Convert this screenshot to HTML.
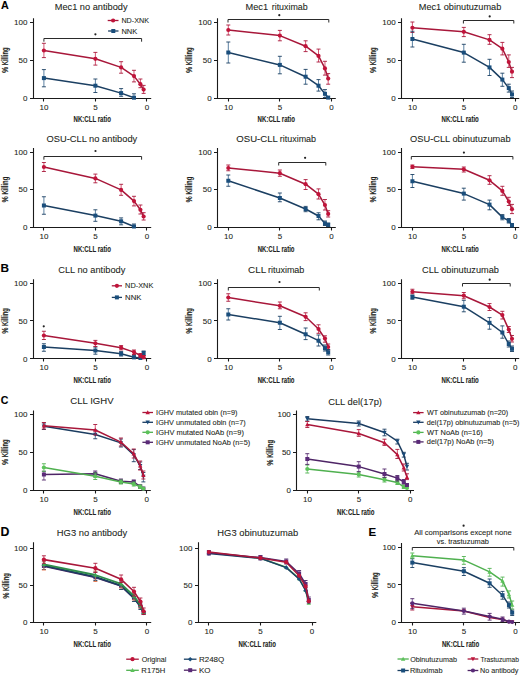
<!DOCTYPE html>
<html><head><meta charset="utf-8"><style>
html,body{margin:0;padding:0;background:#fff;}
body{width:520px;height:675px;overflow:hidden;}
svg{display:block;font-family:"Liberation Sans",sans-serif;}
text{stroke:#231f20;stroke-width:0.08px;paint-order:stroke;}
text[font-weight=bold]{stroke-width:0.12px;}
</style></head><body>
<svg width="520" height="675" viewBox="0 0 520 675">
<rect width="520" height="675" fill="#fff"/>
<path d="M33.50,18.30V98.50M30.00,98.50H151.20" stroke="#1a1a1a" stroke-width="1.1" fill="none"/>
<path d="M30.00,22.50H33.50M30.00,60.50H33.50M43.50,98.50v3M95.50,98.50v3M146.50,98.50v3" stroke="#1a1a1a" stroke-width="1.1" fill="none"/>
<text x="14.06" y="25.05" font-size="8.0" font-weight="normal" fill="#231f20">100</text>
<text x="18.50" y="63.07" font-size="8.0" font-weight="normal" fill="#231f20">50</text>
<text x="23.04" y="101.10" font-size="8.0" font-weight="normal" fill="#231f20">0</text>
<text x="39.60" y="110.00" font-size="8.0" font-weight="normal" fill="#231f20">10</text>
<text x="93.25" y="110.00" font-size="8.0" font-weight="normal" fill="#231f20">5</text>
<text x="144.71" y="110.00" font-size="8.0" font-weight="normal" fill="#231f20">0</text>
<text x="73.51" y="122.30" font-size="9.6" font-weight="bold" fill="#231f20" textLength="37.36" lengthAdjust="spacingAndGlyphs">NK:CLL ratio</text>
<g transform="translate(8.10,60.27) rotate(-90)">
<text x="-12.78" y="0.00" font-size="9.3" font-weight="bold" fill="#231f20" textLength="6.25" lengthAdjust="spacingAndGlyphs">%</text>
<text x="-4.98" y="0.00" font-size="9.3" font-weight="bold" fill="#231f20" textLength="17.86" lengthAdjust="spacingAndGlyphs">Killing</text>
</g>
<text x="54.76" y="10.20" font-size="9.4" font-weight="normal" fill="#231f20" textLength="72.83" lengthAdjust="spacingAndGlyphs">Mec1 no antibody</text>
<path d="M43.90,41.70V38.50H141.60V41.70" stroke="#2a2a2a" stroke-width="1" fill="none"/>
<circle cx="95.40" cy="34.30" r="1.1" fill="#222"/>
<path d="M43.90,43.30V57.60M95.38,52.40V65.10M121.11,61.70V73.20M133.98,70.30V81.90M140.42,79.00V87.70M143.63,85.40V93.40" stroke="#c0143a" stroke-width="0.9" fill="none" opacity="0.8"/>
<path d="M41.90,43.30h4M41.90,57.60h4M93.38,52.40h4M93.38,65.10h4M119.11,61.70h4M119.11,73.20h4M131.98,70.30h4M131.98,81.90h4M138.42,79.00h4M138.42,87.70h4M141.63,85.40h4M141.63,93.40h4" stroke="#a8173a" stroke-width="0.9" fill="none"/>
<polyline points="43.90,50.50 95.38,58.80 121.11,67.40 133.98,76.10 140.42,84.20 143.63,89.60" stroke="#a8173a" stroke-width="1.5" fill="none" stroke-linejoin="round"/>
<circle cx="43.90" cy="50.50" r="2.10" fill="#c0143a"/>
<circle cx="95.38" cy="58.80" r="2.10" fill="#c0143a"/>
<circle cx="121.11" cy="67.40" r="2.10" fill="#c0143a"/>
<circle cx="133.98" cy="76.10" r="2.10" fill="#c0143a"/>
<circle cx="140.42" cy="84.20" r="2.10" fill="#c0143a"/>
<circle cx="143.63" cy="89.60" r="2.10" fill="#c0143a"/>
<path d="M43.90,69.60V86.80M95.38,79.00V92.50M121.11,88.60V96.30M133.98,93.80V98.00" stroke="#1a4e7c" stroke-width="0.9" fill="none" opacity="0.8"/>
<path d="M41.90,69.60h4M41.90,86.80h4M93.38,79.00h4M93.38,92.50h4M119.11,88.60h4M119.11,96.30h4M131.98,93.80h4M131.98,98.00h4" stroke="#1b3f62" stroke-width="0.9" fill="none"/>
<polyline points="43.90,78.10 95.38,85.70 121.11,93.10 133.98,97.70" stroke="#1b3f62" stroke-width="1.5" fill="none" stroke-linejoin="round"/>
<rect x="41.90" y="76.10" width="4.00" height="4.00" fill="#1a4e7c"/>
<rect x="93.38" y="83.70" width="4.00" height="4.00" fill="#1a4e7c"/>
<rect x="119.11" y="91.10" width="4.00" height="4.00" fill="#1a4e7c"/>
<rect x="131.98" y="95.70" width="4.00" height="4.00" fill="#1a4e7c"/>
<path d="M107.70,20.50H118.50" stroke="#a8173a" stroke-width="1.3"/>
<circle cx="113.10" cy="20.50" r="2.10" fill="#c0143a"/>
<text x="121.43" y="23.00" font-size="7.2" font-weight="normal" fill="#231f20">ND-XNK</text>
<path d="M108.10,31.00H118.50" stroke="#1b3f62" stroke-width="1.3"/>
<rect x="111.30" y="29.00" width="4.00" height="4.00" fill="#1a4e7c"/>
<text x="121.40" y="33.50" font-size="7.2" font-weight="normal" fill="#231f20" textLength="15.89" lengthAdjust="spacingAndGlyphs">NNK</text>
<path d="M217.50,18.30V98.50M214.00,98.50H335.80" stroke="#1a1a1a" stroke-width="1.1" fill="none"/>
<path d="M214.00,22.50H217.50M214.00,60.50H217.50M228.50,98.50v3M279.50,98.50v3M331.50,98.50v3" stroke="#1a1a1a" stroke-width="1.1" fill="none"/>
<text x="198.36" y="25.05" font-size="8.0" font-weight="normal" fill="#231f20">100</text>
<text x="202.80" y="63.07" font-size="8.0" font-weight="normal" fill="#231f20">50</text>
<text x="207.34" y="101.10" font-size="8.0" font-weight="normal" fill="#231f20">0</text>
<text x="224.00" y="110.00" font-size="8.0" font-weight="normal" fill="#231f20">10</text>
<text x="277.73" y="110.00" font-size="8.0" font-weight="normal" fill="#231f20">5</text>
<text x="329.26" y="110.00" font-size="8.0" font-weight="normal" fill="#231f20">0</text>
<text x="257.61" y="122.30" font-size="9.6" font-weight="bold" fill="#231f20" textLength="37.36" lengthAdjust="spacingAndGlyphs">NK:CLL ratio</text>
<g transform="translate(192.40,60.27) rotate(-90)">
<text x="-12.78" y="0.00" font-size="9.3" font-weight="bold" fill="#231f20" textLength="6.25" lengthAdjust="spacingAndGlyphs">%</text>
<text x="-4.98" y="0.00" font-size="9.3" font-weight="bold" fill="#231f20" textLength="17.86" lengthAdjust="spacingAndGlyphs">Killing</text>
</g>
<text x="245.46" y="10.40" font-size="9.4" font-weight="normal" fill="#231f20" textLength="22.66" lengthAdjust="spacingAndGlyphs">Mec1</text>
<text x="271.72" y="10.40" font-size="9.4" font-weight="normal" fill="#231f20" textLength="35.95" lengthAdjust="spacingAndGlyphs">rituximab</text>
<path d="M228.00,22.50V19.50H328.80V22.50" stroke="#2a2a2a" stroke-width="1" fill="none"/>
<circle cx="279.30" cy="15.20" r="1.1" fill="#222"/>
<path d="M228.30,25.00V35.00M279.85,30.40V40.80M305.62,40.80V51.60M318.51,49.10V62.00M324.96,61.30V75.10M328.18,73.60V84.20" stroke="#c0143a" stroke-width="0.9" fill="none" opacity="0.8"/>
<path d="M226.30,25.00h4M226.30,35.00h4M277.85,30.40h4M277.85,40.80h4M303.62,40.80h4M303.62,51.60h4M316.51,49.10h4M316.51,62.00h4M322.96,61.30h4M322.96,75.10h4M326.18,73.60h4M326.18,84.20h4" stroke="#a8173a" stroke-width="0.9" fill="none"/>
<polyline points="228.30,30.00 279.85,35.60 305.62,46.20 318.51,55.90 324.96,68.40 328.18,78.60" stroke="#a8173a" stroke-width="1.5" fill="none" stroke-linejoin="round"/>
<circle cx="228.30" cy="30.00" r="2.10" fill="#c0143a"/>
<circle cx="279.85" cy="35.60" r="2.10" fill="#c0143a"/>
<circle cx="305.62" cy="46.20" r="2.10" fill="#c0143a"/>
<circle cx="318.51" cy="55.90" r="2.10" fill="#c0143a"/>
<circle cx="324.96" cy="68.40" r="2.10" fill="#c0143a"/>
<circle cx="328.18" cy="78.60" r="2.10" fill="#c0143a"/>
<path d="M228.30,42.00V63.00M279.85,56.30V73.80M305.62,69.40V84.20M318.51,79.60V91.10M324.96,89.60V97.50" stroke="#1a4e7c" stroke-width="0.9" fill="none" opacity="0.8"/>
<path d="M226.30,42.00h4M226.30,63.00h4M277.85,56.30h4M277.85,73.80h4M303.62,69.40h4M303.62,84.20h4M316.51,79.60h4M316.51,91.10h4M322.96,89.60h4M322.96,97.50h4" stroke="#1b3f62" stroke-width="0.9" fill="none"/>
<polyline points="228.30,52.50 279.85,64.90 305.62,76.70 318.51,85.70 324.96,93.80 328.18,97.60" stroke="#1b3f62" stroke-width="1.5" fill="none" stroke-linejoin="round"/>
<rect x="226.30" y="50.50" width="4.00" height="4.00" fill="#1a4e7c"/>
<rect x="277.85" y="62.90" width="4.00" height="4.00" fill="#1a4e7c"/>
<rect x="303.62" y="74.70" width="4.00" height="4.00" fill="#1a4e7c"/>
<rect x="316.51" y="83.70" width="4.00" height="4.00" fill="#1a4e7c"/>
<rect x="322.96" y="91.80" width="4.00" height="4.00" fill="#1a4e7c"/>
<rect x="326.18" y="95.60" width="4.00" height="4.00" fill="#1a4e7c"/>
<path d="M401.50,18.30V98.50M398.00,98.50H519.20" stroke="#1a1a1a" stroke-width="1.1" fill="none"/>
<path d="M398.00,22.50H401.50M398.00,60.50H401.50M412.50,98.50v3M463.50,98.50v3M515.50,98.50v3" stroke="#1a1a1a" stroke-width="1.1" fill="none"/>
<text x="382.36" y="25.05" font-size="8.0" font-weight="normal" fill="#231f20">100</text>
<text x="386.80" y="63.07" font-size="8.0" font-weight="normal" fill="#231f20">50</text>
<text x="391.34" y="101.10" font-size="8.0" font-weight="normal" fill="#231f20">0</text>
<text x="408.10" y="110.00" font-size="8.0" font-weight="normal" fill="#231f20">10</text>
<text x="461.68" y="110.00" font-size="8.0" font-weight="normal" fill="#231f20">5</text>
<text x="513.06" y="110.00" font-size="8.0" font-weight="normal" fill="#231f20">0</text>
<text x="441.61" y="122.30" font-size="9.6" font-weight="bold" fill="#231f20" textLength="37.15" lengthAdjust="spacingAndGlyphs">NK:CLL ratio</text>
<g transform="translate(376.40,60.27) rotate(-90)">
<text x="-12.78" y="0.00" font-size="9.3" font-weight="bold" fill="#231f20" textLength="6.25" lengthAdjust="spacingAndGlyphs">%</text>
<text x="-4.98" y="0.00" font-size="9.3" font-weight="bold" fill="#231f20" textLength="17.86" lengthAdjust="spacingAndGlyphs">Killing</text>
</g>
<text x="418.77" y="10.40" font-size="9.4" font-weight="normal" fill="#231f20" textLength="82.51" lengthAdjust="spacingAndGlyphs">Mec1 obinutuzumab</text>
<path d="M463.40,23.50V20.50H513.80V23.50" stroke="#2a2a2a" stroke-width="1" fill="none"/>
<circle cx="489.70" cy="16.40" r="1.1" fill="#222"/>
<path d="M412.40,22.00V32.50M463.80,27.40V36.60M489.50,34.70V44.30M502.35,42.40V54.90M508.78,54.90V67.40M511.99,67.40V77.60" stroke="#c0143a" stroke-width="0.9" fill="none" opacity="0.8"/>
<path d="M410.40,22.00h4M410.40,32.50h4M461.80,27.40h4M461.80,36.60h4M487.50,34.70h4M487.50,44.30h4M500.35,42.40h4M500.35,54.90h4M506.78,54.90h4M506.78,67.40h4M509.99,67.40h4M509.99,77.60h4" stroke="#a8173a" stroke-width="0.9" fill="none"/>
<polyline points="412.40,27.75 463.80,31.80 489.50,39.90 502.35,48.70 508.78,62.00 511.99,71.70" stroke="#a8173a" stroke-width="1.5" fill="none" stroke-linejoin="round"/>
<circle cx="412.40" cy="27.75" r="2.10" fill="#c0143a"/>
<circle cx="463.80" cy="31.80" r="2.10" fill="#c0143a"/>
<circle cx="489.50" cy="39.90" r="2.10" fill="#c0143a"/>
<circle cx="502.35" cy="48.70" r="2.10" fill="#c0143a"/>
<circle cx="508.78" cy="62.00" r="2.10" fill="#c0143a"/>
<circle cx="511.99" cy="71.70" r="2.10" fill="#c0143a"/>
<path d="M412.40,31.25V47.00M463.80,44.30V62.20M489.50,59.30V75.50M502.35,73.20V86.30M508.78,84.20V92.10M511.99,91.00V97.50" stroke="#1a4e7c" stroke-width="0.9" fill="none" opacity="0.8"/>
<path d="M410.40,31.25h4M410.40,47.00h4M461.80,44.30h4M461.80,62.20h4M487.50,59.30h4M487.50,75.50h4M500.35,73.20h4M500.35,86.30h4M506.78,84.20h4M506.78,92.10h4M509.99,91.00h4M509.99,97.50h4" stroke="#1b3f62" stroke-width="0.9" fill="none"/>
<polyline points="412.40,39.00 463.80,52.60 489.50,67.40 502.35,79.60 508.78,88.10 511.99,94.40" stroke="#1b3f62" stroke-width="1.5" fill="none" stroke-linejoin="round"/>
<rect x="410.40" y="37.00" width="4.00" height="4.00" fill="#1a4e7c"/>
<rect x="461.80" y="50.60" width="4.00" height="4.00" fill="#1a4e7c"/>
<rect x="487.50" y="65.40" width="4.00" height="4.00" fill="#1a4e7c"/>
<rect x="500.35" y="77.60" width="4.00" height="4.00" fill="#1a4e7c"/>
<rect x="506.78" y="86.10" width="4.00" height="4.00" fill="#1a4e7c"/>
<rect x="509.99" y="92.40" width="4.00" height="4.00" fill="#1a4e7c"/>
<path d="M33.50,148.00V227.50M30.00,227.50H151.20" stroke="#1a1a1a" stroke-width="1.1" fill="none"/>
<path d="M30.00,152.50H33.50M30.00,189.50H33.50M43.50,227.50v3M95.50,227.50v3M146.50,227.50v3" stroke="#1a1a1a" stroke-width="1.1" fill="none"/>
<text x="14.06" y="154.90" font-size="8.0" font-weight="normal" fill="#231f20">100</text>
<text x="18.50" y="192.45" font-size="8.0" font-weight="normal" fill="#231f20">50</text>
<text x="23.04" y="230.00" font-size="8.0" font-weight="normal" fill="#231f20">0</text>
<text x="39.60" y="238.90" font-size="8.0" font-weight="normal" fill="#231f20">10</text>
<text x="93.25" y="238.90" font-size="8.0" font-weight="normal" fill="#231f20">5</text>
<text x="144.71" y="238.90" font-size="8.0" font-weight="normal" fill="#231f20">0</text>
<text x="73.51" y="252.00" font-size="9.6" font-weight="bold" fill="#231f20" textLength="37.36" lengthAdjust="spacingAndGlyphs">NK:CLL ratio</text>
<g transform="translate(8.10,189.65) rotate(-90)">
<text x="-12.78" y="0.00" font-size="9.3" font-weight="bold" fill="#231f20" textLength="6.25" lengthAdjust="spacingAndGlyphs">%</text>
<text x="-4.98" y="0.00" font-size="9.3" font-weight="bold" fill="#231f20" textLength="17.86" lengthAdjust="spacingAndGlyphs">Killing</text>
</g>
<text x="46.58" y="141.50" font-size="9.4" font-weight="normal" fill="#231f20" textLength="90.63" lengthAdjust="spacingAndGlyphs">OSU-CLL no antibody</text>
<path d="M43.90,159.70V156.50H141.60V159.70" stroke="#2a2a2a" stroke-width="1" fill="none"/>
<circle cx="95.50" cy="151.00" r="1.1" fill="#222"/>
<path d="M43.90,162.50V171.50M95.38,174.10V182.80M121.11,184.30V195.30M133.98,196.30V205.90M140.42,205.00V214.00M143.63,212.70V220.00" stroke="#c0143a" stroke-width="0.9" fill="none" opacity="0.8"/>
<path d="M41.90,162.50h4M41.90,171.50h4M93.38,174.10h4M93.38,182.80h4M119.11,184.30h4M119.11,195.30h4M131.98,196.30h4M131.98,205.90h4M138.42,205.00h4M138.42,214.00h4M141.63,212.70h4M141.63,220.00h4" stroke="#a8173a" stroke-width="0.9" fill="none"/>
<polyline points="43.90,167.00 95.38,178.40 121.11,189.90 133.98,201.10 140.42,209.80 143.63,216.50" stroke="#a8173a" stroke-width="1.5" fill="none" stroke-linejoin="round"/>
<circle cx="43.90" cy="167.00" r="2.10" fill="#c0143a"/>
<circle cx="95.38" cy="178.40" r="2.10" fill="#c0143a"/>
<circle cx="121.11" cy="189.90" r="2.10" fill="#c0143a"/>
<circle cx="133.98" cy="201.10" r="2.10" fill="#c0143a"/>
<circle cx="140.42" cy="209.80" r="2.10" fill="#c0143a"/>
<circle cx="143.63" cy="216.50" r="2.10" fill="#c0143a"/>
<path d="M43.90,196.75V214.25M95.38,209.80V221.30M121.11,217.90V224.80M133.98,224.00V227.50" stroke="#1a4e7c" stroke-width="0.9" fill="none" opacity="0.8"/>
<path d="M41.90,196.75h4M41.90,214.25h4M93.38,209.80h4M93.38,221.30h4M119.11,217.90h4M119.11,224.80h4M131.98,224.00h4M131.98,227.50h4" stroke="#1b3f62" stroke-width="0.9" fill="none"/>
<polyline points="43.90,205.50 95.38,215.60 121.11,221.30 133.98,226.50" stroke="#1b3f62" stroke-width="1.5" fill="none" stroke-linejoin="round"/>
<rect x="41.90" y="203.50" width="4.00" height="4.00" fill="#1a4e7c"/>
<rect x="93.38" y="213.60" width="4.00" height="4.00" fill="#1a4e7c"/>
<rect x="119.11" y="219.30" width="4.00" height="4.00" fill="#1a4e7c"/>
<rect x="131.98" y="224.50" width="4.00" height="4.00" fill="#1a4e7c"/>
<path d="M217.50,148.00V227.50M214.00,227.50H335.80" stroke="#1a1a1a" stroke-width="1.1" fill="none"/>
<path d="M214.00,152.50H217.50M214.00,189.50H217.50M228.50,227.50v3M279.50,227.50v3M331.50,227.50v3" stroke="#1a1a1a" stroke-width="1.1" fill="none"/>
<text x="198.36" y="154.90" font-size="8.0" font-weight="normal" fill="#231f20">100</text>
<text x="202.80" y="192.45" font-size="8.0" font-weight="normal" fill="#231f20">50</text>
<text x="207.34" y="230.00" font-size="8.0" font-weight="normal" fill="#231f20">0</text>
<text x="224.00" y="238.90" font-size="8.0" font-weight="normal" fill="#231f20">10</text>
<text x="277.73" y="238.90" font-size="8.0" font-weight="normal" fill="#231f20">5</text>
<text x="329.26" y="238.90" font-size="8.0" font-weight="normal" fill="#231f20">0</text>
<text x="257.71" y="252.00" font-size="9.6" font-weight="bold" fill="#231f20" textLength="36.75" lengthAdjust="spacingAndGlyphs">NK:CLL ratio</text>
<g transform="translate(192.40,189.65) rotate(-90)">
<text x="-12.78" y="0.00" font-size="9.3" font-weight="bold" fill="#231f20" textLength="6.25" lengthAdjust="spacingAndGlyphs">%</text>
<text x="-4.98" y="0.00" font-size="9.3" font-weight="bold" fill="#231f20" textLength="17.86" lengthAdjust="spacingAndGlyphs">Killing</text>
</g>
<text x="236.37" y="141.80" font-size="9.4" font-weight="normal" fill="#231f20" textLength="41.51" lengthAdjust="spacingAndGlyphs">OSU-CLL</text>
<text x="279.72" y="141.80" font-size="9.4" font-weight="normal" fill="#231f20" textLength="36.36" lengthAdjust="spacingAndGlyphs">rituximab</text>
<path d="M278.70,165.50V162.50H325.80V165.50" stroke="#2a2a2a" stroke-width="1" fill="none"/>
<circle cx="305.10" cy="157.80" r="1.1" fill="#222"/>
<path d="M228.30,165.00V170.75M279.85,170.00V176.25M305.62,179.60V189.50M318.51,188.90V199.00M324.96,199.50V210.00M328.18,210.70V217.00" stroke="#c0143a" stroke-width="0.9" fill="none" opacity="0.8"/>
<path d="M226.30,165.00h4M226.30,170.75h4M277.85,170.00h4M277.85,176.25h4M303.62,179.60h4M303.62,189.50h4M316.51,188.90h4M316.51,199.00h4M322.96,199.50h4M322.96,210.00h4M326.18,210.70h4M326.18,217.00h4" stroke="#a8173a" stroke-width="0.9" fill="none"/>
<polyline points="228.30,168.00 279.85,173.20 305.62,184.20 318.51,194.20 324.96,205.00 328.18,213.90" stroke="#a8173a" stroke-width="1.5" fill="none" stroke-linejoin="round"/>
<circle cx="228.30" cy="168.00" r="2.10" fill="#c0143a"/>
<circle cx="279.85" cy="173.20" r="2.10" fill="#c0143a"/>
<circle cx="305.62" cy="184.20" r="2.10" fill="#c0143a"/>
<circle cx="318.51" cy="194.20" r="2.10" fill="#c0143a"/>
<circle cx="324.96" cy="205.00" r="2.10" fill="#c0143a"/>
<circle cx="328.18" cy="213.90" r="2.10" fill="#c0143a"/>
<path d="M228.30,175.00V186.25M279.85,193.00V201.75M305.62,206.40V211.70M318.51,212.80V219.80M324.96,221.00V225.50M328.18,223.00V226.50" stroke="#1a4e7c" stroke-width="0.9" fill="none" opacity="0.8"/>
<path d="M226.30,175.00h4M226.30,186.25h4M277.85,193.00h4M277.85,201.75h4M303.62,206.40h4M303.62,211.70h4M316.51,212.80h4M316.51,219.80h4M322.96,221.00h4M322.96,225.50h4M326.18,223.00h4M326.18,226.50h4" stroke="#1b3f62" stroke-width="0.9" fill="none"/>
<polyline points="228.30,180.75 279.85,198.00 305.62,209.00 318.51,216.00 324.96,223.40 328.18,224.90" stroke="#1b3f62" stroke-width="1.5" fill="none" stroke-linejoin="round"/>
<rect x="226.30" y="178.75" width="4.00" height="4.00" fill="#1a4e7c"/>
<rect x="277.85" y="196.00" width="4.00" height="4.00" fill="#1a4e7c"/>
<rect x="303.62" y="207.00" width="4.00" height="4.00" fill="#1a4e7c"/>
<rect x="316.51" y="214.00" width="4.00" height="4.00" fill="#1a4e7c"/>
<rect x="322.96" y="221.40" width="4.00" height="4.00" fill="#1a4e7c"/>
<rect x="326.18" y="222.90" width="4.00" height="4.00" fill="#1a4e7c"/>
<path d="M401.50,148.00V227.50M398.00,227.50H519.20" stroke="#1a1a1a" stroke-width="1.1" fill="none"/>
<path d="M398.00,152.50H401.50M398.00,189.50H401.50M412.50,227.50v3M463.50,227.50v3M515.50,227.50v3" stroke="#1a1a1a" stroke-width="1.1" fill="none"/>
<text x="382.36" y="154.90" font-size="8.0" font-weight="normal" fill="#231f20">100</text>
<text x="386.80" y="192.45" font-size="8.0" font-weight="normal" fill="#231f20">50</text>
<text x="391.34" y="230.00" font-size="8.0" font-weight="normal" fill="#231f20">0</text>
<text x="408.10" y="238.90" font-size="8.0" font-weight="normal" fill="#231f20">10</text>
<text x="461.68" y="238.90" font-size="8.0" font-weight="normal" fill="#231f20">5</text>
<text x="513.06" y="238.90" font-size="8.0" font-weight="normal" fill="#231f20">0</text>
<text x="441.61" y="252.00" font-size="9.6" font-weight="bold" fill="#231f20" textLength="37.15" lengthAdjust="spacingAndGlyphs">NK:CLL ratio</text>
<g transform="translate(376.40,189.65) rotate(-90)">
<text x="-12.78" y="0.00" font-size="9.3" font-weight="bold" fill="#231f20" textLength="6.25" lengthAdjust="spacingAndGlyphs">%</text>
<text x="-4.98" y="0.00" font-size="9.3" font-weight="bold" fill="#231f20" textLength="17.86" lengthAdjust="spacingAndGlyphs">Killing</text>
</g>
<text x="410.08" y="141.80" font-size="9.4" font-weight="normal" fill="#231f20" textLength="100.51" lengthAdjust="spacingAndGlyphs">OSU-CLL obinutuzumab</text>
<path d="M411.30,159.50V156.50H512.90V159.50" stroke="#2a2a2a" stroke-width="1" fill="none"/>
<circle cx="463.90" cy="152.60" r="1.1" fill="#222"/>
<path d="M412.40,165.00V168.50M463.80,167.00V172.00M489.50,175.70V184.30M502.35,186.30V195.30M508.78,197.30V205.50M511.99,204.40V213.60" stroke="#c0143a" stroke-width="0.9" fill="none" opacity="0.8"/>
<path d="M410.40,165.00h4M410.40,168.50h4M461.80,167.00h4M461.80,172.00h4M487.50,175.70h4M487.50,184.30h4M500.35,186.30h4M500.35,195.30h4M506.78,197.30h4M506.78,205.50h4M509.99,204.40h4M509.99,213.60h4" stroke="#a8173a" stroke-width="0.9" fill="none"/>
<polyline points="412.40,166.75 463.80,169.30 489.50,180.30 502.35,190.90 508.78,201.50 511.99,209.20" stroke="#a8173a" stroke-width="1.5" fill="none" stroke-linejoin="round"/>
<circle cx="412.40" cy="166.75" r="2.10" fill="#c0143a"/>
<circle cx="463.80" cy="169.30" r="2.10" fill="#c0143a"/>
<circle cx="489.50" cy="180.30" r="2.10" fill="#c0143a"/>
<circle cx="502.35" cy="190.90" r="2.10" fill="#c0143a"/>
<circle cx="508.78" cy="201.50" r="2.10" fill="#c0143a"/>
<circle cx="511.99" cy="209.20" r="2.10" fill="#c0143a"/>
<path d="M412.40,174.50V187.50M463.80,188.20V200.10M489.50,200.10V209.80M502.35,214.60V219.80M508.78,218.50V223.00M511.99,223.50V227.00" stroke="#1a4e7c" stroke-width="0.9" fill="none" opacity="0.8"/>
<path d="M410.40,174.50h4M410.40,187.50h4M461.80,188.20h4M461.80,200.10h4M487.50,200.10h4M487.50,209.80h4M500.35,214.60h4M500.35,219.80h4M506.78,218.50h4M506.78,223.00h4M509.99,223.50h4M509.99,227.00h4" stroke="#1b3f62" stroke-width="0.9" fill="none"/>
<polyline points="412.40,181.25 463.80,193.60 489.50,204.60 502.35,217.10 508.78,220.80 511.99,225.20" stroke="#1b3f62" stroke-width="1.5" fill="none" stroke-linejoin="round"/>
<rect x="410.40" y="179.25" width="4.00" height="4.00" fill="#1a4e7c"/>
<rect x="461.80" y="191.60" width="4.00" height="4.00" fill="#1a4e7c"/>
<rect x="487.50" y="202.60" width="4.00" height="4.00" fill="#1a4e7c"/>
<rect x="500.35" y="215.10" width="4.00" height="4.00" fill="#1a4e7c"/>
<rect x="506.78" y="218.80" width="4.00" height="4.00" fill="#1a4e7c"/>
<rect x="509.99" y="223.20" width="4.00" height="4.00" fill="#1a4e7c"/>
<path d="M33.50,279.20V358.50M30.00,358.50H151.20" stroke="#1a1a1a" stroke-width="1.1" fill="none"/>
<path d="M30.00,283.50H33.50M30.00,320.50H33.50M43.50,358.50v3M95.50,358.50v3M146.50,358.50v3" stroke="#1a1a1a" stroke-width="1.1" fill="none"/>
<text x="14.06" y="286.00" font-size="8.0" font-weight="normal" fill="#231f20">100</text>
<text x="18.50" y="323.75" font-size="8.0" font-weight="normal" fill="#231f20">50</text>
<text x="23.04" y="361.50" font-size="8.0" font-weight="normal" fill="#231f20">0</text>
<text x="39.60" y="370.40" font-size="8.0" font-weight="normal" fill="#231f20">10</text>
<text x="93.25" y="370.40" font-size="8.0" font-weight="normal" fill="#231f20">5</text>
<text x="144.71" y="370.40" font-size="8.0" font-weight="normal" fill="#231f20">0</text>
<text x="73.51" y="383.30" font-size="9.6" font-weight="bold" fill="#231f20" textLength="37.36" lengthAdjust="spacingAndGlyphs">NK:CLL ratio</text>
<g transform="translate(8.10,320.95) rotate(-90)">
<text x="-12.78" y="0.00" font-size="9.3" font-weight="bold" fill="#231f20" textLength="6.25" lengthAdjust="spacingAndGlyphs">%</text>
<text x="-4.98" y="0.00" font-size="9.3" font-weight="bold" fill="#231f20" textLength="17.86" lengthAdjust="spacingAndGlyphs">Killing</text>
</g>
<text x="58.29" y="273.00" font-size="9.4" font-weight="normal" fill="#231f20" textLength="67.02" lengthAdjust="spacingAndGlyphs">CLL no antibody</text>
<circle cx="43.75" cy="326.30" r="1.1" fill="#222"/>
<path d="M43.90,343.75V351.25M95.38,347.10V354.20M121.11,351.60V356.00M133.98,355.00V358.70M143.63,351.00V355.50" stroke="#1a4e7c" stroke-width="0.9" fill="none" opacity="0.8"/>
<path d="M41.90,343.75h4M41.90,351.25h4M93.38,347.10h4M93.38,354.20h4M119.11,351.60h4M119.11,356.00h4M131.98,355.00h4M131.98,358.70h4M141.63,351.00h4M141.63,355.50h4" stroke="#1b3f62" stroke-width="0.9" fill="none"/>
<polyline points="43.90,347.00 95.38,350.50 121.11,353.80 133.98,357.20 140.42,358.00 143.63,353.00" stroke="#1b3f62" stroke-width="1.5" fill="none" stroke-linejoin="round"/>
<rect x="41.90" y="345.00" width="4.00" height="4.00" fill="#1a4e7c"/>
<rect x="93.38" y="348.50" width="4.00" height="4.00" fill="#1a4e7c"/>
<rect x="119.11" y="351.80" width="4.00" height="4.00" fill="#1a4e7c"/>
<rect x="131.98" y="355.20" width="4.00" height="4.00" fill="#1a4e7c"/>
<rect x="138.42" y="356.00" width="4.00" height="4.00" fill="#1a4e7c"/>
<rect x="141.63" y="351.00" width="4.00" height="4.00" fill="#1a4e7c"/>
<path d="M43.90,331.25V339.50M95.38,340.40V346.50M121.11,345.60V349.90M133.98,350.00V354.50M140.42,353.50V357.50M143.63,355.50V358.70" stroke="#c0143a" stroke-width="0.9" fill="none" opacity="0.8"/>
<path d="M41.90,331.25h4M41.90,339.50h4M93.38,340.40h4M93.38,346.50h4M119.11,345.60h4M119.11,349.90h4M131.98,350.00h4M131.98,354.50h4M138.42,353.50h4M138.42,357.50h4M141.63,355.50h4M141.63,358.70h4" stroke="#a8173a" stroke-width="0.9" fill="none"/>
<polyline points="43.90,335.50 95.38,343.30 121.11,347.70 133.98,352.10 140.42,355.50 143.63,357.20" stroke="#a8173a" stroke-width="1.5" fill="none" stroke-linejoin="round"/>
<circle cx="43.90" cy="335.50" r="2.10" fill="#c0143a"/>
<circle cx="95.38" cy="343.30" r="2.10" fill="#c0143a"/>
<circle cx="121.11" cy="347.70" r="2.10" fill="#c0143a"/>
<circle cx="133.98" cy="352.10" r="2.10" fill="#c0143a"/>
<circle cx="140.42" cy="355.50" r="2.10" fill="#c0143a"/>
<circle cx="143.63" cy="357.20" r="2.10" fill="#c0143a"/>
<path d="M111.80,285.80H122.00" stroke="#a8173a" stroke-width="1.3"/>
<circle cx="116.90" cy="285.80" r="2.10" fill="#c0143a"/>
<text x="125.11" y="288.30" font-size="7.2" font-weight="normal" fill="#231f20" textLength="28.19" lengthAdjust="spacingAndGlyphs">ND-XNK</text>
<path d="M111.80,297.40H122.00" stroke="#1b3f62" stroke-width="1.3"/>
<rect x="114.90" y="295.40" width="4.00" height="4.00" fill="#1a4e7c"/>
<text x="125.08" y="299.90" font-size="7.2" font-weight="normal" fill="#231f20" textLength="16.31" lengthAdjust="spacingAndGlyphs">NNK</text>
<path d="M217.50,279.20V358.50M214.00,358.50H335.80" stroke="#1a1a1a" stroke-width="1.1" fill="none"/>
<path d="M214.00,283.50H217.50M214.00,320.50H217.50M228.50,358.50v3M279.50,358.50v3M331.50,358.50v3" stroke="#1a1a1a" stroke-width="1.1" fill="none"/>
<text x="198.36" y="286.00" font-size="8.0" font-weight="normal" fill="#231f20">100</text>
<text x="202.80" y="323.75" font-size="8.0" font-weight="normal" fill="#231f20">50</text>
<text x="207.34" y="361.50" font-size="8.0" font-weight="normal" fill="#231f20">0</text>
<text x="224.00" y="370.40" font-size="8.0" font-weight="normal" fill="#231f20">10</text>
<text x="277.73" y="370.40" font-size="8.0" font-weight="normal" fill="#231f20">5</text>
<text x="329.26" y="370.40" font-size="8.0" font-weight="normal" fill="#231f20">0</text>
<text x="257.71" y="383.30" font-size="9.6" font-weight="bold" fill="#231f20" textLength="36.75" lengthAdjust="spacingAndGlyphs">NK:CLL ratio</text>
<g transform="translate(192.40,320.95) rotate(-90)">
<text x="-12.78" y="0.00" font-size="9.3" font-weight="bold" fill="#231f20" textLength="6.25" lengthAdjust="spacingAndGlyphs">%</text>
<text x="-4.98" y="0.00" font-size="9.3" font-weight="bold" fill="#231f20" textLength="17.86" lengthAdjust="spacingAndGlyphs">Killing</text>
</g>
<text x="248.10" y="273.00" font-size="9.4" font-weight="normal" fill="#231f20" textLength="18.19" lengthAdjust="spacingAndGlyphs">CLL</text>
<text x="267.92" y="273.00" font-size="9.4" font-weight="normal" fill="#231f20" textLength="36.46" lengthAdjust="spacingAndGlyphs">rituximab</text>
<path d="M228.30,290.50V287.50H319.30V290.50" stroke="#2a2a2a" stroke-width="1" fill="none"/>
<circle cx="279.50" cy="282.00" r="1.1" fill="#222"/>
<path d="M228.30,293.75V301.25M279.85,302.00V308.75M305.62,312.80V320.60M318.51,324.80V333.30M324.96,335.80V342.20M328.18,344.00V350.00" stroke="#c0143a" stroke-width="0.9" fill="none" opacity="0.8"/>
<path d="M226.30,293.75h4M226.30,301.25h4M277.85,302.00h4M277.85,308.75h4M303.62,312.80h4M303.62,320.60h4M316.51,324.80h4M316.51,333.30h4M322.96,335.80h4M322.96,342.20h4M326.18,344.00h4M326.18,350.00h4" stroke="#a8173a" stroke-width="0.9" fill="none"/>
<polyline points="228.30,297.50 279.85,305.80 305.62,316.80 318.51,329.00 324.96,338.60 328.18,347.00" stroke="#a8173a" stroke-width="1.5" fill="none" stroke-linejoin="round"/>
<circle cx="228.30" cy="297.50" r="2.10" fill="#c0143a"/>
<circle cx="279.85" cy="305.80" r="2.10" fill="#c0143a"/>
<circle cx="305.62" cy="316.80" r="2.10" fill="#c0143a"/>
<circle cx="318.51" cy="329.00" r="2.10" fill="#c0143a"/>
<circle cx="324.96" cy="338.60" r="2.10" fill="#c0143a"/>
<circle cx="328.18" cy="347.00" r="2.10" fill="#c0143a"/>
<path d="M228.30,308.75V320.00M279.85,316.30V329.50M305.62,328.00V339.60M318.51,335.00V346.00M324.96,345.00V351.00M328.18,349.50V355.00" stroke="#1a4e7c" stroke-width="0.9" fill="none" opacity="0.8"/>
<path d="M226.30,308.75h4M226.30,320.00h4M277.85,316.30h4M277.85,329.50h4M303.62,328.00h4M303.62,339.60h4M316.51,335.00h4M316.51,346.00h4M322.96,345.00h4M322.96,351.00h4M326.18,349.50h4M326.18,355.00h4" stroke="#1b3f62" stroke-width="0.9" fill="none"/>
<polyline points="228.30,314.50 279.85,322.70 305.62,334.30 318.51,340.70 324.96,348.10 328.18,352.30" stroke="#1b3f62" stroke-width="1.5" fill="none" stroke-linejoin="round"/>
<rect x="226.30" y="312.50" width="4.00" height="4.00" fill="#1a4e7c"/>
<rect x="277.85" y="320.70" width="4.00" height="4.00" fill="#1a4e7c"/>
<rect x="303.62" y="332.30" width="4.00" height="4.00" fill="#1a4e7c"/>
<rect x="316.51" y="338.70" width="4.00" height="4.00" fill="#1a4e7c"/>
<rect x="322.96" y="346.10" width="4.00" height="4.00" fill="#1a4e7c"/>
<rect x="326.18" y="350.30" width="4.00" height="4.00" fill="#1a4e7c"/>
<path d="M401.50,279.20V358.50M398.00,358.50H519.20" stroke="#1a1a1a" stroke-width="1.1" fill="none"/>
<path d="M398.00,283.50H401.50M398.00,320.50H401.50M412.50,358.50v3M463.50,358.50v3M515.50,358.50v3" stroke="#1a1a1a" stroke-width="1.1" fill="none"/>
<text x="382.36" y="286.00" font-size="8.0" font-weight="normal" fill="#231f20">100</text>
<text x="386.80" y="323.75" font-size="8.0" font-weight="normal" fill="#231f20">50</text>
<text x="391.34" y="361.50" font-size="8.0" font-weight="normal" fill="#231f20">0</text>
<text x="408.10" y="370.40" font-size="8.0" font-weight="normal" fill="#231f20">10</text>
<text x="461.68" y="370.40" font-size="8.0" font-weight="normal" fill="#231f20">5</text>
<text x="513.06" y="370.40" font-size="8.0" font-weight="normal" fill="#231f20">0</text>
<text x="441.61" y="383.30" font-size="9.6" font-weight="bold" fill="#231f20" textLength="37.15" lengthAdjust="spacingAndGlyphs">NK:CLL ratio</text>
<g transform="translate(376.40,320.95) rotate(-90)">
<text x="-12.78" y="0.00" font-size="9.3" font-weight="bold" fill="#231f20" textLength="6.25" lengthAdjust="spacingAndGlyphs">%</text>
<text x="-4.98" y="0.00" font-size="9.3" font-weight="bold" fill="#231f20" textLength="17.86" lengthAdjust="spacingAndGlyphs">Killing</text>
</g>
<text x="422.04" y="273.00" font-size="9.4" font-weight="normal" fill="#231f20" textLength="76.95" lengthAdjust="spacingAndGlyphs">CLL obinutuzumab</text>
<path d="M462.50,286.50V283.50H510.20V286.50" stroke="#2a2a2a" stroke-width="1" fill="none"/>
<circle cx="489.70" cy="279.70" r="1.1" fill="#222"/>
<path d="M412.40,289.25V293.75M463.80,292.50V298.75M489.50,303.60V310.50M502.35,311.30V319.00M508.78,326.50V332.50M511.99,335.50V342.00" stroke="#c0143a" stroke-width="0.9" fill="none" opacity="0.8"/>
<path d="M410.40,289.25h4M410.40,293.75h4M461.80,292.50h4M461.80,298.75h4M487.50,303.60h4M487.50,310.50h4M500.35,311.30h4M500.35,319.00h4M506.78,326.50h4M506.78,332.50h4M509.99,335.50h4M509.99,342.00h4" stroke="#a8173a" stroke-width="0.9" fill="none"/>
<polyline points="412.40,291.75 463.80,295.70 489.50,307.00 502.35,315.10 508.78,329.60 511.99,338.80" stroke="#a8173a" stroke-width="1.5" fill="none" stroke-linejoin="round"/>
<circle cx="412.40" cy="291.75" r="2.10" fill="#c0143a"/>
<circle cx="463.80" cy="295.70" r="2.10" fill="#c0143a"/>
<circle cx="489.50" cy="307.00" r="2.10" fill="#c0143a"/>
<circle cx="502.35" cy="315.10" r="2.10" fill="#c0143a"/>
<circle cx="508.78" cy="329.60" r="2.10" fill="#c0143a"/>
<circle cx="511.99" cy="338.80" r="2.10" fill="#c0143a"/>
<path d="M412.40,295.00V299.25M463.80,300.30V311.80M489.50,317.60V329.20M502.35,325.90V338.20M508.78,341.00V347.00M511.99,346.00V351.50" stroke="#1a4e7c" stroke-width="0.9" fill="none" opacity="0.8"/>
<path d="M410.40,295.00h4M410.40,299.25h4M461.80,300.30h4M461.80,311.80h4M487.50,317.60h4M487.50,329.20h4M500.35,325.90h4M500.35,338.20h4M506.78,341.00h4M506.78,347.00h4M509.99,346.00h4M509.99,351.50h4" stroke="#1b3f62" stroke-width="0.9" fill="none"/>
<polyline points="412.40,297.00 463.80,306.70 489.50,322.80 502.35,332.50 508.78,344.00 511.99,348.80" stroke="#1b3f62" stroke-width="1.5" fill="none" stroke-linejoin="round"/>
<rect x="410.40" y="295.00" width="4.00" height="4.00" fill="#1a4e7c"/>
<rect x="461.80" y="304.70" width="4.00" height="4.00" fill="#1a4e7c"/>
<rect x="487.50" y="320.80" width="4.00" height="4.00" fill="#1a4e7c"/>
<rect x="500.35" y="330.50" width="4.00" height="4.00" fill="#1a4e7c"/>
<rect x="506.78" y="342.00" width="4.00" height="4.00" fill="#1a4e7c"/>
<rect x="509.99" y="346.80" width="4.00" height="4.00" fill="#1a4e7c"/>
<path d="M33.50,410.60V490.50M30.00,490.50H150.80" stroke="#1a1a1a" stroke-width="1.1" fill="none"/>
<path d="M30.00,414.50H33.50M30.00,452.50H33.50M43.50,490.50v3M95.50,490.50v3M146.50,490.50v3" stroke="#1a1a1a" stroke-width="1.1" fill="none"/>
<text x="14.06" y="417.20" font-size="8.0" font-weight="normal" fill="#231f20">100</text>
<text x="18.50" y="455.15" font-size="8.0" font-weight="normal" fill="#231f20">50</text>
<text x="23.04" y="493.10" font-size="8.0" font-weight="normal" fill="#231f20">0</text>
<text x="39.60" y="502.00" font-size="8.0" font-weight="normal" fill="#231f20">10</text>
<text x="93.13" y="502.00" font-size="8.0" font-weight="normal" fill="#231f20">5</text>
<text x="144.46" y="502.00" font-size="8.0" font-weight="normal" fill="#231f20">0</text>
<text x="73.51" y="515.30" font-size="9.6" font-weight="bold" fill="#231f20" textLength="37.36" lengthAdjust="spacingAndGlyphs">NK:CLL ratio</text>
<g transform="translate(8.10,452.35) rotate(-90)">
<text x="-12.78" y="0.00" font-size="9.3" font-weight="bold" fill="#231f20" textLength="6.25" lengthAdjust="spacingAndGlyphs">%</text>
<text x="-4.98" y="0.00" font-size="9.3" font-weight="bold" fill="#231f20" textLength="17.86" lengthAdjust="spacingAndGlyphs">Killing</text>
</g>
<text x="70.32" y="404.30" font-size="9.4" font-weight="normal" fill="#231f20" textLength="43.33" lengthAdjust="spacingAndGlyphs">CLL IGHV</text>
<path d="M43.90,471.25V480.00M95.25,471.00V477.00M120.92,479.00V483.50M133.76,480.00V484.00M140.18,485.00V488.00" stroke="#5a2a78" stroke-width="0.9" fill="none" opacity="0.8"/>
<path d="M41.90,471.25h4M41.90,480.00h4M93.25,471.00h4M93.25,477.00h4M118.92,479.00h4M118.92,483.50h4M131.76,480.00h4M131.76,484.00h4M138.18,485.00h4M138.18,488.00h4" stroke="#4e2566" stroke-width="0.9" fill="none"/>
<polyline points="43.90,474.50 95.25,473.75 120.92,481.25 133.76,481.90 140.18,486.50 143.39,488.50" stroke="#4e2566" stroke-width="1.5" fill="none" stroke-linejoin="round"/>
<rect x="41.90" y="472.50" width="4.00" height="4.00" fill="#5a2a78"/>
<rect x="93.25" y="471.75" width="4.00" height="4.00" fill="#5a2a78"/>
<rect x="118.92" y="479.25" width="4.00" height="4.00" fill="#5a2a78"/>
<rect x="131.76" y="479.90" width="4.00" height="4.00" fill="#5a2a78"/>
<rect x="138.18" y="484.50" width="4.00" height="4.00" fill="#5a2a78"/>
<rect x="141.39" y="486.50" width="4.00" height="4.00" fill="#5a2a78"/>
<path d="M43.90,463.75V471.25M95.25,473.00V479.50M120.92,480.00V484.00M133.76,482.00V486.00M140.18,485.00V488.50" stroke="#5cc25a" stroke-width="0.9" fill="none" opacity="0.8"/>
<path d="M41.90,463.75h4M41.90,471.25h4M93.25,473.00h4M93.25,479.50h4M118.92,480.00h4M118.92,484.00h4M131.76,482.00h4M131.76,486.00h4M138.18,485.00h4M138.18,488.50h4" stroke="#4fb04f" stroke-width="0.9" fill="none"/>
<polyline points="43.90,467.50 95.25,476.25 120.92,482.00 133.76,484.10 140.18,486.80 143.39,488.70" stroke="#4fb04f" stroke-width="1.5" fill="none" stroke-linejoin="round"/>
<circle cx="43.90" cy="467.50" r="2.10" fill="#5cc25a"/>
<circle cx="95.25" cy="476.25" r="2.10" fill="#5cc25a"/>
<circle cx="120.92" cy="482.00" r="2.10" fill="#5cc25a"/>
<circle cx="133.76" cy="484.10" r="2.10" fill="#5cc25a"/>
<circle cx="140.18" cy="486.80" r="2.10" fill="#5cc25a"/>
<circle cx="143.39" cy="488.70" r="2.10" fill="#5cc25a"/>
<path d="M43.90,423.00V429.50M95.25,430.00V438.75M120.92,439.00V447.00M133.76,449.60V461.70M140.18,462.00V469.50M143.39,472.50V481.90" stroke="#1a4a78" stroke-width="0.9" fill="none" opacity="0.8"/>
<path d="M41.90,423.00h4M41.90,429.50h4M93.25,430.00h4M93.25,438.75h4M118.92,439.00h4M118.92,447.00h4M131.76,449.60h4M131.76,461.70h4M138.18,462.00h4M138.18,469.50h4M141.39,472.50h4M141.39,481.90h4" stroke="#1b3c60" stroke-width="0.9" fill="none"/>
<polyline points="43.90,426.25 95.25,434.50 120.92,442.90 133.76,455.00 140.18,465.80 143.39,476.50" stroke="#1b3c60" stroke-width="1.5" fill="none" stroke-linejoin="round"/>
<path d="M43.90,428.45L46.10,424.49L41.70,424.49Z" fill="#1a4a78"/>
<path d="M95.25,436.70L97.45,432.74L93.05,432.74Z" fill="#1a4a78"/>
<path d="M120.92,445.10L123.12,441.14L118.72,441.14Z" fill="#1a4a78"/>
<path d="M133.76,457.20L135.96,453.24L131.56,453.24Z" fill="#1a4a78"/>
<path d="M140.18,468.00L142.38,464.04L137.98,464.04Z" fill="#1a4a78"/>
<path d="M143.39,478.70L145.59,474.74L141.19,474.74Z" fill="#1a4a78"/>
<path d="M43.90,422.50V429.00M95.25,424.50V435.00M120.92,438.00V446.00M133.76,449.00V458.00M140.18,461.00V470.00M143.39,471.00V479.00" stroke="#c0143a" stroke-width="0.9" fill="none" opacity="0.8"/>
<path d="M41.90,422.50h4M41.90,429.00h4M93.25,424.50h4M93.25,435.00h4M118.92,438.00h4M118.92,446.00h4M131.76,449.00h4M131.76,458.00h4M138.18,461.00h4M138.18,470.00h4M141.39,471.00h4M141.39,479.00h4" stroke="#a8173a" stroke-width="0.9" fill="none"/>
<polyline points="43.90,425.75 95.25,430.00 120.92,442.10 133.76,453.70 140.18,465.80 143.39,475.20" stroke="#a8173a" stroke-width="1.5" fill="none" stroke-linejoin="round"/>
<path d="M43.90,423.55L46.10,427.51L41.70,427.51Z" fill="#c0143a"/>
<path d="M95.25,427.80L97.45,431.76L93.05,431.76Z" fill="#c0143a"/>
<path d="M120.92,439.90L123.12,443.86L118.72,443.86Z" fill="#c0143a"/>
<path d="M133.76,451.50L135.96,455.46L131.56,455.46Z" fill="#c0143a"/>
<path d="M140.18,463.60L142.38,467.56L137.98,467.56Z" fill="#c0143a"/>
<path d="M143.39,473.00L145.59,476.96L141.19,476.96Z" fill="#c0143a"/>
<path d="M142.40,412.50H153.00" stroke="#a8173a" stroke-width="1.3"/>
<path d="M147.70,410.30L149.90,414.26L145.50,414.26Z" fill="#c0143a"/>
<text x="156.14" y="415.00" font-size="7.2" font-weight="normal" fill="#231f20" textLength="81.33" lengthAdjust="spacingAndGlyphs">IGHV mutated obin (n=9)</text>
<path d="M142.40,422.30H153.00" stroke="#1b3c60" stroke-width="1.3"/>
<path d="M147.70,424.50L149.90,420.54L145.50,420.54Z" fill="#1a4a78"/>
<text x="156.14" y="424.80" font-size="7.2" font-weight="normal" fill="#231f20" textLength="89.61" lengthAdjust="spacingAndGlyphs">IGHV unmutated obin (n=7)</text>
<path d="M142.40,432.30H153.00" stroke="#4fb04f" stroke-width="1.3"/>
<circle cx="147.70" cy="432.30" r="2.10" fill="#5cc25a"/>
<text x="156.13" y="434.80" font-size="7.2" font-weight="normal" fill="#231f20" textLength="87.83" lengthAdjust="spacingAndGlyphs">IGHV mutated NoAb (n=9)</text>
<path d="M142.40,442.30H153.00" stroke="#4e2566" stroke-width="1.3"/>
<rect x="145.70" y="440.30" width="4.00" height="4.00" fill="#5a2a78"/>
<text x="156.14" y="444.80" font-size="7.2" font-weight="normal" fill="#231f20" textLength="94.02" lengthAdjust="spacingAndGlyphs">IGHV unmutated NoAb (n=5)</text>
<path d="M296.50,410.60V490.50M293.00,490.50H414.00" stroke="#1a1a1a" stroke-width="1.1" fill="none"/>
<path d="M293.00,414.50H296.50M293.00,452.50H296.50M307.50,490.50v3M358.50,490.50v3M410.50,490.50v3" stroke="#1a1a1a" stroke-width="1.1" fill="none"/>
<text x="277.46" y="417.20" font-size="8.0" font-weight="normal" fill="#231f20">100</text>
<text x="281.90" y="455.10" font-size="8.0" font-weight="normal" fill="#231f20">50</text>
<text x="286.44" y="493.00" font-size="8.0" font-weight="normal" fill="#231f20">0</text>
<text x="303.00" y="501.90" font-size="8.0" font-weight="normal" fill="#231f20">10</text>
<text x="356.63" y="501.90" font-size="8.0" font-weight="normal" fill="#231f20">5</text>
<text x="408.06" y="501.90" font-size="8.0" font-weight="normal" fill="#231f20">0</text>
<text x="337.11" y="515.30" font-size="9.6" font-weight="bold" fill="#231f20" textLength="37.26" lengthAdjust="spacingAndGlyphs">NK:CLL ratio</text>
<g transform="translate(273.00,452.90) rotate(-90)">
<text x="-12.78" y="0.00" font-size="9.3" font-weight="bold" fill="#231f20" textLength="6.25" lengthAdjust="spacingAndGlyphs">%</text>
<text x="-4.98" y="0.00" font-size="9.3" font-weight="bold" fill="#231f20" textLength="17.86" lengthAdjust="spacingAndGlyphs">Killing</text>
</g>
<text x="328.13" y="405.20" font-size="9.4" font-weight="normal" fill="#231f20">CLL del(17p)</text>
<path d="M307.30,465.00V473.00M358.75,472.00V477.00M384.48,477.50V482.00M397.34,480.50V484.50M403.77,485.00V488.50" stroke="#5cc25a" stroke-width="0.9" fill="none" opacity="0.8"/>
<path d="M305.30,465.00h4M305.30,473.00h4M356.75,472.00h4M356.75,477.00h4M382.48,477.50h4M382.48,482.00h4M395.34,480.50h4M395.34,484.50h4M401.77,485.00h4M401.77,488.50h4" stroke="#4fb04f" stroke-width="0.9" fill="none"/>
<polyline points="307.30,469.00 358.75,474.40 384.48,479.70 397.34,482.50 403.77,486.90 406.98,487.90" stroke="#4fb04f" stroke-width="1.5" fill="none" stroke-linejoin="round"/>
<circle cx="307.30" cy="469.00" r="2.10" fill="#5cc25a"/>
<circle cx="358.75" cy="474.40" r="2.10" fill="#5cc25a"/>
<circle cx="384.48" cy="479.70" r="2.10" fill="#5cc25a"/>
<circle cx="397.34" cy="482.50" r="2.10" fill="#5cc25a"/>
<circle cx="403.77" cy="486.90" r="2.10" fill="#5cc25a"/>
<circle cx="406.98" cy="487.90" r="2.10" fill="#5cc25a"/>
<path d="M307.30,453.70V464.40M358.75,461.70V471.70M384.48,469.00V477.30M397.34,475.50V481.00M403.77,479.50V484.00" stroke="#5a2a78" stroke-width="0.9" fill="none" opacity="0.8"/>
<path d="M305.30,453.70h4M305.30,464.40h4M356.75,461.70h4M356.75,471.70h4M382.48,469.00h4M382.48,477.30h4M395.34,475.50h4M395.34,481.00h4M401.77,479.50h4M401.77,484.00h4" stroke="#4e2566" stroke-width="0.9" fill="none"/>
<polyline points="307.30,459.00 358.75,466.60 384.48,474.00 397.34,478.10 403.77,481.90 406.98,485.00" stroke="#4e2566" stroke-width="1.5" fill="none" stroke-linejoin="round"/>
<rect x="305.30" y="457.00" width="4.00" height="4.00" fill="#5a2a78"/>
<rect x="356.75" y="464.60" width="4.00" height="4.00" fill="#5a2a78"/>
<rect x="382.48" y="472.00" width="4.00" height="4.00" fill="#5a2a78"/>
<rect x="395.34" y="476.10" width="4.00" height="4.00" fill="#5a2a78"/>
<rect x="401.77" y="479.90" width="4.00" height="4.00" fill="#5a2a78"/>
<rect x="404.98" y="483.00" width="4.00" height="4.00" fill="#5a2a78"/>
<path d="M307.30,416.50V421.00M358.75,421.00V426.00M384.48,429.20V435.80M397.34,439.20V444.00M403.77,452.30V457.10M406.98,463.30V470.00" stroke="#1a4a78" stroke-width="0.9" fill="none" opacity="0.8"/>
<path d="M305.30,416.50h4M305.30,421.00h4M356.75,421.00h4M356.75,426.00h4M382.48,429.20h4M382.48,435.80h4M395.34,439.20h4M395.34,444.00h4M401.77,452.30h4M401.77,457.10h4M404.98,463.30h4M404.98,470.00h4" stroke="#1b3c60" stroke-width="0.9" fill="none"/>
<polyline points="307.30,418.70 358.75,423.50 384.48,432.50 397.34,441.20 403.77,454.60 406.98,466.50" stroke="#1b3c60" stroke-width="1.5" fill="none" stroke-linejoin="round"/>
<path d="M307.30,420.90L309.50,416.94L305.10,416.94Z" fill="#1a4a78"/>
<path d="M358.75,425.70L360.95,421.74L356.55,421.74Z" fill="#1a4a78"/>
<path d="M384.48,434.70L386.68,430.74L382.28,430.74Z" fill="#1a4a78"/>
<path d="M397.34,443.40L399.54,439.44L395.14,439.44Z" fill="#1a4a78"/>
<path d="M403.77,456.80L405.97,452.84L401.57,452.84Z" fill="#1a4a78"/>
<path d="M406.98,468.70L409.18,464.74L404.78,464.74Z" fill="#1a4a78"/>
<path d="M307.30,421.50V427.50M358.75,429.60V436.30M384.48,439.20V445.40M397.34,449.40V458.50M403.77,464.00V471.00M406.98,473.80V479.60" stroke="#c0143a" stroke-width="0.9" fill="none" opacity="0.8"/>
<path d="M305.30,421.50h4M305.30,427.50h4M356.75,429.60h4M356.75,436.30h4M382.48,439.20h4M382.48,445.40h4M395.34,449.40h4M395.34,458.50h4M401.77,464.00h4M401.77,471.00h4M404.98,473.80h4M404.98,479.60h4" stroke="#a8173a" stroke-width="0.9" fill="none"/>
<polyline points="307.30,424.60 358.75,433.50 384.48,442.70 397.34,454.60 403.77,467.70 406.98,477.30" stroke="#a8173a" stroke-width="1.5" fill="none" stroke-linejoin="round"/>
<path d="M307.30,422.40L309.50,426.36L305.10,426.36Z" fill="#c0143a"/>
<path d="M358.75,431.30L360.95,435.26L356.55,435.26Z" fill="#c0143a"/>
<path d="M384.48,440.50L386.68,444.46L382.28,444.46Z" fill="#c0143a"/>
<path d="M397.34,452.40L399.54,456.36L395.14,456.36Z" fill="#c0143a"/>
<path d="M403.77,465.50L405.97,469.46L401.57,469.46Z" fill="#c0143a"/>
<path d="M406.98,475.10L409.18,479.06L404.78,479.06Z" fill="#c0143a"/>
<path d="M413.10,412.60H423.60" stroke="#a8173a" stroke-width="1.3"/>
<path d="M418.35,410.40L420.55,414.36L416.15,414.36Z" fill="#c0143a"/>
<text x="427.06" y="415.10" font-size="7.2" font-weight="normal" fill="#231f20">WT obinutuzumab (n=20)</text>
<path d="M413.10,422.30H423.60" stroke="#1b3c60" stroke-width="1.3"/>
<path d="M418.35,424.50L420.55,420.54L416.15,420.54Z" fill="#1a4a78"/>
<text x="426.81" y="424.80" font-size="7.2" font-weight="normal" fill="#231f20">del(17p) obinutuzumab (n=5)</text>
<path d="M413.10,432.40H423.60" stroke="#4fb04f" stroke-width="1.3"/>
<circle cx="418.35" cy="432.40" r="2.10" fill="#5cc25a"/>
<text x="427.06" y="434.90" font-size="7.2" font-weight="normal" fill="#231f20" textLength="55.80" lengthAdjust="spacingAndGlyphs">WT NoAb (n=16)</text>
<path d="M413.10,441.90H423.60" stroke="#4e2566" stroke-width="1.3"/>
<rect x="416.35" y="439.90" width="4.00" height="4.00" fill="#5a2a78"/>
<text x="426.80" y="444.40" font-size="7.2" font-weight="normal" fill="#231f20" textLength="67.17" lengthAdjust="spacingAndGlyphs">del(17p) NoAb (n=5)</text>
<path d="M33.50,542.20V622.50M30.00,622.50H151.20" stroke="#1a1a1a" stroke-width="1.1" fill="none"/>
<path d="M30.00,548.50H33.50M30.00,585.50H33.50M43.50,622.50v3M95.50,622.50v3M146.50,622.50v3" stroke="#1a1a1a" stroke-width="1.1" fill="none"/>
<text x="14.06" y="551.20" font-size="8.0" font-weight="normal" fill="#231f20">100</text>
<text x="18.50" y="588.25" font-size="8.0" font-weight="normal" fill="#231f20">50</text>
<text x="23.04" y="625.30" font-size="8.0" font-weight="normal" fill="#231f20">0</text>
<text x="39.60" y="634.20" font-size="8.0" font-weight="normal" fill="#231f20">10</text>
<text x="93.25" y="634.20" font-size="8.0" font-weight="normal" fill="#231f20">5</text>
<text x="144.71" y="634.20" font-size="8.0" font-weight="normal" fill="#231f20">0</text>
<text x="73.51" y="647.30" font-size="9.6" font-weight="bold" fill="#231f20" textLength="37.36" lengthAdjust="spacingAndGlyphs">NK:CLL ratio</text>
<g transform="translate(9.10,586.05) rotate(-90)">
<text x="-12.78" y="0.00" font-size="9.3" font-weight="bold" fill="#231f20" textLength="6.25" lengthAdjust="spacingAndGlyphs">%</text>
<text x="-4.98" y="0.00" font-size="9.3" font-weight="bold" fill="#231f20" textLength="17.86" lengthAdjust="spacingAndGlyphs">Killing</text>
</g>
<text x="56.85" y="535.60" font-size="9.4" font-weight="normal" fill="#231f20">HG3 no antibody</text>
<polyline points="43.90,566.00 95.38,577.30 121.11,586.00 133.98,598.00 140.42,606.50 143.63,613.00" stroke="#4e2566" stroke-width="1.8" fill="none" stroke-linejoin="round"/>
<rect x="41.90" y="564.00" width="4.00" height="4.00" fill="#5a2a78"/>
<rect x="93.38" y="575.30" width="4.00" height="4.00" fill="#5a2a78"/>
<rect x="119.11" y="584.00" width="4.00" height="4.00" fill="#5a2a78"/>
<rect x="131.98" y="596.00" width="4.00" height="4.00" fill="#5a2a78"/>
<rect x="138.42" y="604.50" width="4.00" height="4.00" fill="#5a2a78"/>
<rect x="141.63" y="611.00" width="4.00" height="4.00" fill="#5a2a78"/>
<path d="M43.90,561.00V569.50M95.38,572.00V580.50M121.11,581.00V589.50M133.98,594.00V601.50M140.42,603.00V609.50" stroke="#1a4e7c" stroke-width="0.9" fill="none" opacity="0.8"/>
<path d="M41.90,561.00h4M41.90,569.50h4M93.38,572.00h4M93.38,580.50h4M119.11,581.00h4M119.11,589.50h4M131.98,594.00h4M131.98,601.50h4M138.42,603.00h4M138.42,609.50h4" stroke="#1b3f62" stroke-width="0.9" fill="none"/>
<polyline points="43.90,565.60 95.38,576.80 121.11,585.60 133.98,598.00 140.42,606.50 143.63,613.00" stroke="#1b3f62" stroke-width="1.8" fill="none" stroke-linejoin="round"/>
<path d="M43.90,563.30L46.20,565.60L43.90,567.90L41.60,565.60Z" fill="#1a4e7c"/>
<path d="M95.38,574.50L97.67,576.80L95.38,579.10L93.08,576.80Z" fill="#1a4e7c"/>
<path d="M121.11,583.30L123.41,585.60L121.11,587.90L118.81,585.60Z" fill="#1a4e7c"/>
<path d="M133.98,595.70L136.28,598.00L133.98,600.30L131.68,598.00Z" fill="#1a4e7c"/>
<path d="M140.42,604.20L142.72,606.50L140.42,608.80L138.12,606.50Z" fill="#1a4e7c"/>
<path d="M143.63,610.70L145.93,613.00L143.63,615.30L141.33,613.00Z" fill="#1a4e7c"/>
<path d="M43.90,561.00V570.00M95.38,571.00V581.50M121.11,580.00V588.00M133.98,592.00V600.00M140.42,602.00V608.00" stroke="#e0804a" stroke-width="0.9" fill="none" opacity="0.8"/>
<path d="M41.90,561.00h4M41.90,570.00h4M93.38,571.00h4M93.38,581.50h4M119.11,580.00h4M119.11,588.00h4M131.98,592.00h4M131.98,600.00h4M138.42,602.00h4M138.42,608.00h4" stroke="#e0704a" stroke-width="0.9" fill="none"/>
<polyline points="43.90,564.30 95.38,575.00 121.11,583.80 133.98,596.00 140.42,605.00 143.63,612.30" stroke="#2f8c4a" stroke-width="1.8" fill="none" stroke-linejoin="round"/>
<path d="M43.90,562.10L46.10,566.06L41.70,566.06Z" fill="#3fa552"/>
<path d="M95.38,572.80L97.58,576.76L93.17,576.76Z" fill="#3fa552"/>
<path d="M121.11,581.60L123.31,585.56L118.91,585.56Z" fill="#3fa552"/>
<path d="M133.98,593.80L136.18,597.76L131.78,597.76Z" fill="#3fa552"/>
<path d="M140.42,602.80L142.62,606.76L138.22,606.76Z" fill="#3fa552"/>
<path d="M143.63,610.10L145.83,614.06L141.43,614.06Z" fill="#3fa552"/>
<path d="M43.90,555.80V563.30M95.38,563.30V572.50M121.11,575.00V582.50M133.98,587.30V596.00M140.42,598.00V605.50M143.63,608.00V614.50" stroke="#c0143a" stroke-width="0.9" fill="none" opacity="0.8"/>
<path d="M41.90,555.80h4M41.90,563.30h4M93.38,563.30h4M93.38,572.50h4M119.11,575.00h4M119.11,582.50h4M131.98,587.30h4M131.98,596.00h4M138.42,598.00h4M138.42,605.50h4M141.63,608.00h4M141.63,614.50h4" stroke="#a8173a" stroke-width="0.9" fill="none"/>
<polyline points="43.90,559.60 95.38,568.20 121.11,579.30 133.98,591.50 140.42,601.50 143.63,611.30" stroke="#a8173a" stroke-width="1.6" fill="none" stroke-linejoin="round"/>
<circle cx="43.90" cy="559.60" r="2.10" fill="#c0143a"/>
<circle cx="95.38" cy="568.20" r="2.10" fill="#c0143a"/>
<circle cx="121.11" cy="579.30" r="2.10" fill="#c0143a"/>
<circle cx="133.98" cy="591.50" r="2.10" fill="#c0143a"/>
<circle cx="140.42" cy="601.50" r="2.10" fill="#c0143a"/>
<circle cx="143.63" cy="611.30" r="2.10" fill="#c0143a"/>
<path d="M126.20,659.20H138.80" stroke="#a8173a" stroke-width="1.3"/>
<circle cx="132.50" cy="659.20" r="2.10" fill="#c0143a"/>
<text x="141.68" y="661.70" font-size="7.2" font-weight="normal" fill="#231f20">Original</text>
<path d="M126.20,670.30H138.80" stroke="#4fb04f" stroke-width="1.3"/>
<path d="M132.50,668.10L134.70,672.06L130.30,672.06Z" fill="#5cc25a"/>
<text x="141.39" y="672.80" font-size="7.2" font-weight="normal" fill="#231f20" textLength="23.85" lengthAdjust="spacingAndGlyphs">R175H</text>
<path d="M183.90,659.20H196.50" stroke="#1b3f62" stroke-width="1.3"/>
<path d="M190.20,656.90L192.50,659.20L190.20,661.50L187.90,659.20Z" fill="#1a4e7c"/>
<text x="198.96" y="661.70" font-size="7.2" font-weight="normal" fill="#231f20" textLength="25.33" lengthAdjust="spacingAndGlyphs">R248Q</text>
<path d="M183.90,670.20H196.50" stroke="#4e2566" stroke-width="1.3"/>
<rect x="188.20" y="668.20" width="4.00" height="4.00" fill="#5a2a78"/>
<text x="198.96" y="672.70" font-size="7.2" font-weight="normal" fill="#231f20" textLength="11.54" lengthAdjust="spacingAndGlyphs">KO</text>
<path d="M198.50,542.20V622.50M195.00,622.50H316.30" stroke="#1a1a1a" stroke-width="1.1" fill="none"/>
<path d="M195.00,548.50H198.50M195.00,585.50H198.50M208.50,622.50v3M260.50,622.50v3M312.50,622.50v3" stroke="#1a1a1a" stroke-width="1.1" fill="none"/>
<text x="179.06" y="551.20" font-size="8.0" font-weight="normal" fill="#231f20">100</text>
<text x="183.50" y="588.30" font-size="8.0" font-weight="normal" fill="#231f20">50</text>
<text x="188.04" y="625.40" font-size="8.0" font-weight="normal" fill="#231f20">0</text>
<text x="204.60" y="634.30" font-size="8.0" font-weight="normal" fill="#231f20">10</text>
<text x="258.33" y="634.30" font-size="8.0" font-weight="normal" fill="#231f20">5</text>
<text x="309.86" y="634.30" font-size="8.0" font-weight="normal" fill="#231f20">0</text>
<text x="238.61" y="647.40" font-size="9.6" font-weight="bold" fill="#231f20" textLength="37.26" lengthAdjust="spacingAndGlyphs">NK:CLL ratio</text>
<text x="217.35" y="535.60" font-size="9.4" font-weight="normal" fill="#231f20">HG3 obinutuzumab</text>
<polyline points="208.90,552.80 260.45,558.20 286.23,567.20 299.11,578.60 305.56,590.00 308.78,603.00" stroke="#4fb04f" stroke-width="1.5" fill="none" stroke-linejoin="round"/>
<path d="M208.90,550.60L211.10,554.56L206.70,554.56Z" fill="#5cc25a"/>
<path d="M260.45,556.00L262.65,559.96L258.25,559.96Z" fill="#5cc25a"/>
<path d="M286.23,565.00L288.43,568.96L284.03,568.96Z" fill="#5cc25a"/>
<path d="M299.11,576.40L301.31,580.36L296.91,580.36Z" fill="#5cc25a"/>
<path d="M305.56,587.80L307.76,591.76L303.36,591.76Z" fill="#5cc25a"/>
<path d="M308.78,600.80L310.98,604.76L306.58,604.76Z" fill="#5cc25a"/>
<polyline points="208.90,553.50 260.45,558.30 286.23,567.60 299.11,579.00 305.56,590.50 308.78,601.50" stroke="#1b3f62" stroke-width="1.5" fill="none" stroke-linejoin="round"/>
<path d="M208.90,551.20L211.20,553.50L208.90,555.80L206.60,553.50Z" fill="#1a4e7c"/>
<path d="M260.45,556.00L262.75,558.30L260.45,560.60L258.15,558.30Z" fill="#1a4e7c"/>
<path d="M286.23,565.30L288.53,567.60L286.23,569.90L283.93,567.60Z" fill="#1a4e7c"/>
<path d="M299.11,576.70L301.41,579.00L299.11,581.30L296.81,579.00Z" fill="#1a4e7c"/>
<path d="M305.56,588.20L307.86,590.50L305.56,592.80L303.26,590.50Z" fill="#1a4e7c"/>
<path d="M308.78,599.20L311.08,601.50L308.78,603.80L306.48,601.50Z" fill="#1a4e7c"/>
<path d="M208.90,550.50V555.00M260.45,555.50V560.00M286.23,559.00V564.00M299.11,570.50V576.50M305.56,580.50V587.50M308.78,597.00V603.00" stroke="#5a2a78" stroke-width="0.9" fill="none" opacity="0.8"/>
<path d="M206.90,550.50h4M206.90,555.00h4M258.45,555.50h4M258.45,560.00h4M284.23,559.00h4M284.23,564.00h4M297.11,570.50h4M297.11,576.50h4M303.56,580.50h4M303.56,587.50h4M306.78,597.00h4M306.78,603.00h4" stroke="#4e2566" stroke-width="0.9" fill="none"/>
<polyline points="208.90,552.80 260.45,557.60 286.23,561.50 299.11,573.50 305.56,584.00 308.78,600.00" stroke="#4e2566" stroke-width="1.5" fill="none" stroke-linejoin="round"/>
<rect x="206.90" y="550.80" width="4.00" height="4.00" fill="#5a2a78"/>
<rect x="258.45" y="555.60" width="4.00" height="4.00" fill="#5a2a78"/>
<rect x="284.23" y="559.50" width="4.00" height="4.00" fill="#5a2a78"/>
<rect x="297.11" y="571.50" width="4.00" height="4.00" fill="#5a2a78"/>
<rect x="303.56" y="582.00" width="4.00" height="4.00" fill="#5a2a78"/>
<rect x="306.78" y="598.00" width="4.00" height="4.00" fill="#5a2a78"/>
<polyline points="208.90,552.00 260.45,557.90 286.23,562.20 299.11,575.70 305.56,586.40 308.78,601.20" stroke="#a8173a" stroke-width="1.5" fill="none" stroke-linejoin="round"/>
<circle cx="208.90" cy="552.00" r="2.10" fill="#c0143a"/>
<circle cx="260.45" cy="557.90" r="2.10" fill="#c0143a"/>
<circle cx="286.23" cy="562.20" r="2.10" fill="#c0143a"/>
<circle cx="299.11" cy="575.70" r="2.10" fill="#c0143a"/>
<circle cx="305.56" cy="586.40" r="2.10" fill="#c0143a"/>
<circle cx="308.78" cy="601.20" r="2.10" fill="#c0143a"/>
<path d="M401.50,543.00V622.50M398.00,622.50H520.00" stroke="#1a1a1a" stroke-width="1.1" fill="none"/>
<path d="M398.00,547.50H401.50M398.00,584.50H401.50M412.50,622.50v3M463.50,622.50v3M515.50,622.50v3" stroke="#1a1a1a" stroke-width="1.1" fill="none"/>
<text x="382.46" y="549.90" font-size="8.0" font-weight="normal" fill="#231f20">100</text>
<text x="386.90" y="587.60" font-size="8.0" font-weight="normal" fill="#231f20">50</text>
<text x="391.44" y="625.30" font-size="8.0" font-weight="normal" fill="#231f20">0</text>
<text x="408.00" y="634.20" font-size="8.0" font-weight="normal" fill="#231f20">10</text>
<text x="461.73" y="634.20" font-size="8.0" font-weight="normal" fill="#231f20">5</text>
<text x="513.26" y="634.20" font-size="8.0" font-weight="normal" fill="#231f20">0</text>
<text x="441.91" y="647.30" font-size="9.6" font-weight="bold" fill="#231f20" textLength="37.26" lengthAdjust="spacingAndGlyphs">NK:CLL ratio</text>
<g transform="translate(378.10,585.20) rotate(-90)">
<text x="-12.78" y="0.00" font-size="9.3" font-weight="bold" fill="#231f20" textLength="6.25" lengthAdjust="spacingAndGlyphs">%</text>
<text x="-4.98" y="0.00" font-size="9.3" font-weight="bold" fill="#231f20" textLength="17.86" lengthAdjust="spacingAndGlyphs">Killing</text>
</g>
<text x="414.20" y="535.40" font-size="7.4" font-weight="normal" fill="#231f20" textLength="97.64" lengthAdjust="spacingAndGlyphs">All comparisons except none</text>
<text x="436.76" y="544.40" font-size="7.4" font-weight="normal" fill="#231f20">vs. trastuzumab</text>
<path d="M412.30,550.50V547.50H513.80V550.50" stroke="#2a2a2a" stroke-width="1" fill="none"/>
<circle cx="463.60" cy="525.70" r="1.1" fill="#222"/>
<path d="M412.30,603.00V610.00" stroke="#c0143a" stroke-width="0.9" fill="none" opacity="0.8"/>
<path d="M410.30,603.00h4M410.30,610.00h4" stroke="#a8173a" stroke-width="0.9" fill="none"/>
<polyline points="412.30,606.80 463.85,611.00 489.62,617.40 502.51,619.50 508.96,621.70 512.18,622.00" stroke="#a8173a" stroke-width="1.5" fill="none" stroke-linejoin="round"/>
<path d="M412.30,609.00L414.50,605.04L410.10,605.04Z" fill="#c0143a"/>
<path d="M463.85,613.20L466.05,609.24L461.65,609.24Z" fill="#c0143a"/>
<path d="M489.62,619.60L491.82,615.64L487.43,615.64Z" fill="#c0143a"/>
<path d="M502.51,621.70L504.71,617.74L500.31,617.74Z" fill="#c0143a"/>
<path d="M508.96,623.90L511.16,619.94L506.76,619.94Z" fill="#c0143a"/>
<path d="M512.18,624.20L514.38,620.24L509.98,620.24Z" fill="#c0143a"/>
<path d="M412.30,598.70V608.70M463.85,608.20V614.10M489.62,613.40V620.10M502.51,617.00V621.50" stroke="#5a2a78" stroke-width="0.9" fill="none" opacity="0.8"/>
<path d="M410.30,598.70h4M410.30,608.70h4M461.85,608.20h4M461.85,614.10h4M487.62,613.40h4M487.62,620.10h4M500.51,617.00h4M500.51,621.50h4" stroke="#4e2566" stroke-width="0.9" fill="none"/>
<polyline points="412.30,603.30 463.85,611.00 489.62,616.50 502.51,619.30 508.96,621.70 512.18,622.00" stroke="#4e2566" stroke-width="1.5" fill="none" stroke-linejoin="round"/>
<circle cx="412.30" cy="603.30" r="2.10" fill="#5a2a78"/>
<circle cx="463.85" cy="611.00" r="2.10" fill="#5a2a78"/>
<circle cx="489.62" cy="616.50" r="2.10" fill="#5a2a78"/>
<circle cx="502.51" cy="619.30" r="2.10" fill="#5a2a78"/>
<circle cx="508.96" cy="621.70" r="2.10" fill="#5a2a78"/>
<circle cx="512.18" cy="622.00" r="2.10" fill="#5a2a78"/>
<path d="M412.30,558.75V567.50M463.85,567.60V575.50M489.62,579.00V587.30M502.51,591.40V599.20M508.96,602.00V608.00M512.18,610.00V615.50" stroke="#1a4e7c" stroke-width="0.9" fill="none" opacity="0.8"/>
<path d="M410.30,558.75h4M410.30,567.50h4M461.85,567.60h4M461.85,575.50h4M487.62,579.00h4M487.62,587.30h4M500.51,591.40h4M500.51,599.20h4M506.96,602.00h4M506.96,608.00h4M510.18,610.00h4M510.18,615.50h4" stroke="#1b3f62" stroke-width="0.9" fill="none"/>
<polyline points="412.30,562.60 463.85,571.20 489.62,583.30 502.51,595.20 508.96,605.10 512.18,612.70" stroke="#1b3f62" stroke-width="1.5" fill="none" stroke-linejoin="round"/>
<rect x="410.30" y="560.60" width="4.00" height="4.00" fill="#1a4e7c"/>
<rect x="461.85" y="569.20" width="4.00" height="4.00" fill="#1a4e7c"/>
<rect x="487.62" y="581.30" width="4.00" height="4.00" fill="#1a4e7c"/>
<rect x="500.51" y="593.20" width="4.00" height="4.00" fill="#1a4e7c"/>
<rect x="506.96" y="603.10" width="4.00" height="4.00" fill="#1a4e7c"/>
<rect x="510.18" y="610.70" width="4.00" height="4.00" fill="#1a4e7c"/>
<path d="M412.30,553.00V558.25M463.85,556.50V564.30M489.62,568.40V576.20M502.51,577.10V586.10M508.96,590.90V598.00M512.18,601.00V609.00" stroke="#5cc25a" stroke-width="0.9" fill="none" opacity="0.8"/>
<path d="M410.30,553.00h4M410.30,558.25h4M461.85,556.50h4M461.85,564.30h4M487.62,568.40h4M487.62,576.20h4M500.51,577.10h4M500.51,586.10h4M506.96,590.90h4M506.96,598.00h4M510.18,601.00h4M510.18,609.00h4" stroke="#4fb04f" stroke-width="0.9" fill="none"/>
<polyline points="412.30,555.75 463.85,560.10 489.62,571.90 502.51,580.90 508.96,594.40 512.18,605.10" stroke="#4fb04f" stroke-width="1.5" fill="none" stroke-linejoin="round"/>
<path d="M412.30,553.55L414.50,557.51L410.10,557.51Z" fill="#5cc25a"/>
<path d="M463.85,557.90L466.05,561.86L461.65,561.86Z" fill="#5cc25a"/>
<path d="M489.62,569.70L491.82,573.66L487.43,573.66Z" fill="#5cc25a"/>
<path d="M502.51,578.70L504.71,582.66L500.31,582.66Z" fill="#5cc25a"/>
<path d="M508.96,592.20L511.16,596.16L506.76,596.16Z" fill="#5cc25a"/>
<path d="M512.18,602.90L514.38,606.86L509.98,606.86Z" fill="#5cc25a"/>
<path d="M397.50,659.00H408.75" stroke="#4fb04f" stroke-width="1.3"/>
<path d="M403.12,656.80L405.32,660.76L400.93,660.76Z" fill="#5cc25a"/>
<text x="410.17" y="661.50" font-size="7.2" font-weight="normal" fill="#231f20">Obinutuzumab</text>
<path d="M397.50,670.50H408.75" stroke="#1b3f62" stroke-width="1.3"/>
<rect x="401.12" y="668.50" width="4.00" height="4.00" fill="#1a4e7c"/>
<text x="409.91" y="673.00" font-size="7.2" font-weight="normal" fill="#231f20" textLength="32.59" lengthAdjust="spacingAndGlyphs">Rituximab</text>
<path d="M467.60,659.00H478.30" stroke="#a8173a" stroke-width="1.3"/>
<path d="M472.95,661.20L475.15,657.24L470.75,657.24Z" fill="#c0143a"/>
<text x="480.47" y="661.50" font-size="7.2" font-weight="normal" fill="#231f20" textLength="38.42" lengthAdjust="spacingAndGlyphs">Trastuzumab</text>
<path d="M467.60,670.50H478.30" stroke="#4e2566" stroke-width="1.3"/>
<circle cx="472.95" cy="670.50" r="2.10" fill="#5a2a78"/>
<text x="480.02" y="673.00" font-size="7.2" font-weight="normal" fill="#231f20">No antibody</text>
<text x="1.03" y="9.30" font-size="10.6" font-weight="bold" fill="#000" textLength="7.76" lengthAdjust="spacingAndGlyphs">A</text>
<text x="0.43" y="272.20" font-size="11.2" font-weight="bold" fill="#000" textLength="8.52" lengthAdjust="spacingAndGlyphs">B</text>
<text x="0.78" y="403.70" font-size="11.3" font-weight="bold" fill="#000" textLength="7.61" lengthAdjust="spacingAndGlyphs">C</text>
<text x="0.60" y="535.60" font-size="12.3" font-weight="bold" fill="#000">D</text>
<text x="368.45" y="535.90" font-size="11.2" font-weight="bold" fill="#000" textLength="7.67" lengthAdjust="spacingAndGlyphs">E</text>
</svg>
</body></html>
